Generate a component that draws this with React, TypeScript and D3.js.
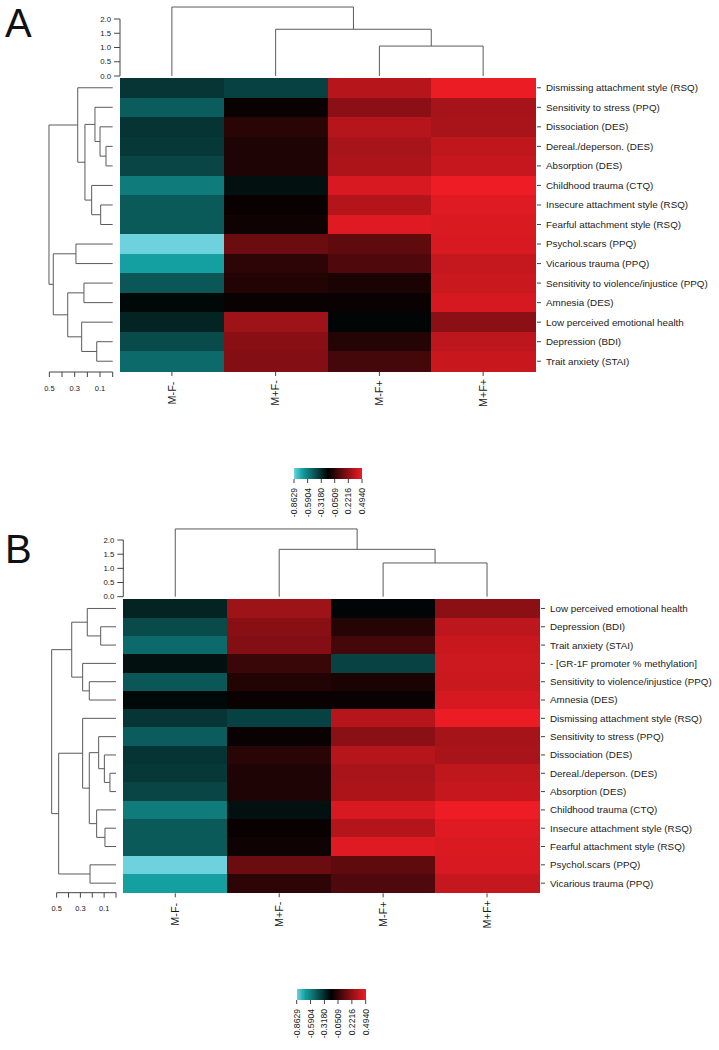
import React from 'react'
import * as d3 from 'd3'

// column groups (same in both panels)
const columns = ['M-F-', 'M+F-', 'M-F+', 'M+F+']

// row order of each heatmap, top to bottom
const rowsA = [
  'Dismissing attachment style (RSQ)',
  'Sensitivity to stress (PPQ)',
  'Dissociation (DES)',
  'Dereal./deperson. (DES)',
  'Absorption (DES)',
  'Childhood trauma (CTQ)',
  'Insecure attachment style (RSQ)',
  'Fearful attachment style (RSQ)',
  'Psychol.scars (PPQ)',
  'Vicarious trauma (PPQ)',
  'Sensitivity to violence/injustice (PPQ)',
  'Amnesia (DES)',
  'Low perceived emotional health',
  'Depression (BDI)',
  'Trait anxiety (STAI)',
]
const rowsB = [
  'Low perceived emotional health',
  'Depression (BDI)',
  'Trait anxiety (STAI)',
  '- [GR-1F promoter % methylation]',
  'Sensitivity to violence/injustice (PPQ)',
  'Amnesia (DES)',
  'Dismissing attachment style (RSQ)',
  'Sensitivity to stress (PPQ)',
  'Dissociation (DES)',
  'Dereal./deperson. (DES)',
  'Absorption (DES)',
  'Childhood trauma (CTQ)',
  'Insecure attachment style (RSQ)',
  'Fearful attachment style (RSQ)',
  'Psychol.scars (PPQ)',
  'Vicarious trauma (PPQ)',
]

// cell values per variable, in column order M-F-, M+F-, M-F+, M+F+
const cellValues: Record<string, number[]> = {
  'Dismissing attachment style (RSQ)': [-0.354, -0.394, 0.332, 0.488],
  'Sensitivity to stress (PPQ)': [-0.48, -0.155, 0.212, 0.289],
  'Dissociation (DES)': [-0.347, -0.064, 0.331, 0.295],
  'Dereal./deperson. (DES)': [-0.365, -0.099, 0.292, 0.362],
  'Absorption (DES)': [-0.406, -0.099, 0.305, 0.38],
  'Childhood trauma (CTQ)': [-0.581, -0.236, 0.431, 0.494],
  'Insecure attachment style (RSQ)': [-0.474, -0.157, 0.329, 0.45],
  'Fearful attachment style (RSQ)': [-0.474, -0.14, 0.45, 0.437],
  'Psychol.scars (PPQ)': [-0.8629, 0.118, 0.087, 0.431],
  'Vicarious trauma (PPQ)': [-0.7, -0.053, 0.041, 0.375],
  'Sensitivity to violence/injustice (PPQ)': [-0.462, -0.084, -0.107, 0.39],
  'Amnesia (DES)': [-0.21, -0.155, -0.155, 0.425],
  'Low perceived emotional health': [-0.3, 0.266, -0.2, 0.209],
  'Depression (BDI)': [-0.423, 0.203, -0.078, 0.357],
  'Trait anxiety (STAI)': [-0.526, 0.188, 0.01, 0.386],
  '- [GR-1F promoter % methylation]': [-0.236, -0.019, -0.397, 0.397],
}

// dendrograms, hclust style: negative = leaf (1-based), positive = earlier merge
const colMerge = [[-3, -4], [-2, 1], [-1, 2]]
const colHeightA = [1.05, 1.64, 2.42]
const colHeightB = [1.19, 1.67, 2.39]

const rowMergeA = [
  [-4, -5], [-3, 1], [-2, 2], [-7, -8], [-6, 4], [3, 5], [-1, 6],
  [-9, -10], [-11, -12], [-14, -15], [-13, 10], [9, 11], [8, 12], [7, 13],
]
const rowHeightA = [0.053, 0.1, 0.14, 0.095, 0.166, 0.219, 0.276, 0.29, 0.227, 0.126, 0.245, 0.355, 0.469, 0.503]

const rowMergeB = [
  [-2, -3], [-1, 1], [-5, -6], [-4, 3], [2, 4],
  [-10, -11], [-9, 6], [-8, 7], [-13, -14], [-12, 9], [8, 10], [-7, 11],
  [-15, -16], [12, 13], [5, 14],
]
const rowHeightB = [0.129, 0.242, 0.225, 0.281, 0.373, 0.051, 0.098, 0.146, 0.093, 0.163, 0.225, 0.281, 0.219, 0.483, 0.542]

// colour key
const keyTicks = [-0.8629, -0.5904, -0.318, -0.0509, 0.2216, 0.494]
const colourStops = [-0.8629, -0.7, -0.184, 0.494]
const colourRange = ['#6ed2de', '#14a0a0', '#000000', '#ee1c24']

const colAxisTicks = [0, 0.5, 1, 1.5, 2]
const rowAxisTicks = [0, 0.1, 0.2, 0.3, 0.4, 0.5]
const rowAxisLabels = [0.5, 0.3, 0.1]

const color = d3.scaleLinear<string>().domain(colourStops).range(colourRange)

const FONT = '"Liberation Sans", Arial, Helvetica, sans-serif'
const INK = '#1a1a1a'
const DENDRO = '#5a5a5a'

// build elbow paths; pos = leaf position, hp = height position
function dendroPaths(merge, heights, leafPos, hp, vertical) {
  const nodePos = []
  const paths = []
  const pt = (p, h) => (vertical ? `${p},${h}` : `${h},${p}`)
  merge.forEach((pair, k) => {
    const kids = pair.map((c) =>
      c < 0 ? { p: leafPos(-c - 1), h: 0 } : { p: nodePos[c - 1], h: heights[c - 1] }
    )
    const hk = hp(heights[k])
    nodePos.push((kids[0].p + kids[1].p) / 2)
    paths.push(
      `M${pt(kids[0].p, hp(kids[0].h))}L${pt(kids[0].p, hk)}L${pt(kids[1].p, hk)}L${pt(kids[1].p, hp(kids[1].h))}`
    )
  })
  return paths
}

function Panel({ cfg }) {
  const x = d3.scaleBand().domain(columns).range([cfg.left, cfg.right])
  const y = d3.scaleBand().domain(cfg.rows).range([cfg.top, cfg.bottom])
  const colH = d3.scaleLinear().domain([0, 2]).range([cfg.colBase, cfg.colBase - 2 * cfg.colUnit])
  const rowH = d3.scaleLinear().domain([0, 0.1]).range([cfg.rowBase, cfg.rowBase - cfg.rowUnit])
  const key = d3.scaleLinear().domain([keyTicks[0], keyTicks[5]]).range([cfg.keyLeft, cfg.keyRight])

  const colPaths = dendroPaths(colMerge, cfg.colHeights, (i) => x(columns[i]) + x.bandwidth() / 2, colH, true)
  const rowPaths = dendroPaths(cfg.rowMerge, cfg.rowHeights, (i) => y(cfg.rows[i]) + y.bandwidth() / 2, rowH, false)

  const keySteps = d3.range(120).map((i) => keyTicks[0] + ((keyTicks[5] - keyTicks[0]) * (i + 0.5)) / 120)
  const stepW = (cfg.keyRight - cfg.keyLeft) / 120

  return (
    <g fontFamily={FONT}>
      <text x={cfg.letterX} y={cfg.letterY} fontSize={40} fill="#111">
        {cfg.letter}
      </text>

      {/* column dendrogram + its axis */}
      {colPaths.map((d, i) => (
        <path key={'c' + i} d={d} fill="none" stroke={DENDRO} strokeWidth={1} />
      ))}
      <line x1={cfg.left} x2={cfg.left} y1={colH(0)} y2={colH(2)} stroke="#444" />
      {colAxisTicks.map((t) => (
        <g key={'ct' + t}>
          <line x1={cfg.left - 6} x2={cfg.left} y1={colH(t)} y2={colH(t)} stroke="#444" />
          <text x={cfg.left - 9} y={colH(t)} dy="0.35em" textAnchor="end" fontSize={7.8} fill={INK}>
            {t.toFixed(1)}
          </text>
        </g>
      ))}

      {/* row dendrogram + its axis */}
      {rowPaths.map((d, i) => (
        <path key={'r' + i} d={d} fill="none" stroke={DENDRO} strokeWidth={1} />
      ))}
      <line x1={rowH(0.5)} x2={rowH(0)} y1={cfg.rowAxisY} y2={cfg.rowAxisY} stroke="#444" />
      {rowAxisTicks.map((t) => (
        <line key={'rt' + t} x1={rowH(t)} x2={rowH(t)} y1={cfg.rowAxisY} y2={cfg.rowAxisY + 5} stroke="#444" />
      ))}
      {rowAxisLabels.map((t) => (
        <text key={'rl' + t} x={rowH(t)} y={cfg.rowAxisY + 16} dy="0.35em" textAnchor="middle" fontSize={7.5} fill={INK}>
          {t.toFixed(1)}
        </text>
      ))}

      {/* heatmap cells */}
      <g shapeRendering="crispEdges">
        {cfg.rows.map((r) =>
          columns.map((c, j) => (
            <rect
              key={r + c}
              x={x(c)}
              y={y(r)}
              width={x.bandwidth() + 0.5}
              height={y.bandwidth() + 0.5}
              fill={color(cellValues[r][j])}
            />
          ))
        )}
      </g>

      {/* row labels */}
      {cfg.rows.map((r) => (
        <g key={'lab' + r}>
          <line
            x1={cfg.right + 2}
            x2={cfg.right + 6}
            y1={y(r) + y.bandwidth() / 2}
            y2={y(r) + y.bandwidth() / 2}
            stroke="#444"
          />
          <text x={cfg.right + 11} y={y(r) + y.bandwidth() / 2} dy="0.35em" fontSize={9.8} fill={INK}>
            {r}
          </text>
        </g>
      ))}

      {/* column labels */}
      {columns.map((c) => {
        const cx = x(c) + x.bandwidth() / 2
        return (
          <g key={'cl' + c}>
            <line x1={cx} x2={cx} y1={cfg.bottom + 1} y2={cfg.bottom + 5} stroke="#444" />
            <text
              transform={`translate(${cx},${cfg.bottom + 22}) rotate(-90)`}
              dy="0.35em"
              textAnchor="middle"
              fontSize={10.8}
              fill={INK}
            >
              {c}
            </text>
          </g>
        )
      })}

      {/* colour key */}
      <g shapeRendering="crispEdges">
        {keySteps.map((v, i) => (
          <rect
            key={'k' + i}
            x={cfg.keyLeft + i * stepW}
            y={cfg.keyTop}
            width={stepW + 0.4}
            height={cfg.keyH}
            fill={color(v)}
          />
        ))}
      </g>
      {keyTicks.map((t) => (
        <g key={'kt' + t}>
          <line x1={key(t)} x2={key(t)} y1={cfg.keyTop + cfg.keyH} y2={cfg.keyTop + cfg.keyH + 4} stroke="#444" />
          <text
            transform={`translate(${key(t)},${cfg.keyTop + cfg.keyH + 9}) rotate(-90)`}
            dy="0.35em"
            textAnchor="end"
            fontSize={8.6}
            fill={INK}
          >
            {t.toFixed(4)}
          </text>
        </g>
      ))}
    </g>
  )
}

const panelA = {
  letter: 'A', letterX: 5, letterY: 37,
  rows: rowsA, rowMerge: rowMergeA, rowHeights: rowHeightA, colHeights: colHeightA,
  left: 120, right: 535, top: 78, bottom: 371,
  colBase: 76, colUnit: 28.5,
  rowBase: 112.7, rowUnit: 12.67, rowAxisY: 372,
  keyLeft: 294, keyRight: 362, keyTop: 468, keyH: 11,
}

const panelB = {
  letter: 'B', letterX: 5, letterY: 563,
  rows: rowsB, rowMerge: rowMergeB, rowHeights: rowHeightB, colHeights: colHeightB,
  left: 123.3, right: 539, top: 599.3, bottom: 892.3,
  colBase: 596.7, colUnit: 28.35,
  rowBase: 116, rowUnit: 11.87, rowAxisY: 892.7,
  keyLeft: 296.7, keyRight: 365.7, keyTop: 989, keyH: 11,
}

export default function App() {
  return (
    <svg
      width={719}
      height={1050}
      style={{ position: 'absolute', left: 0, top: 0, background: '#fff' }}
    >
      <rect width={719} height={1050} fill="#fff" />
      <Panel cfg={panelA} />
      <Panel cfg={panelB} />
    </svg>
  )
}
